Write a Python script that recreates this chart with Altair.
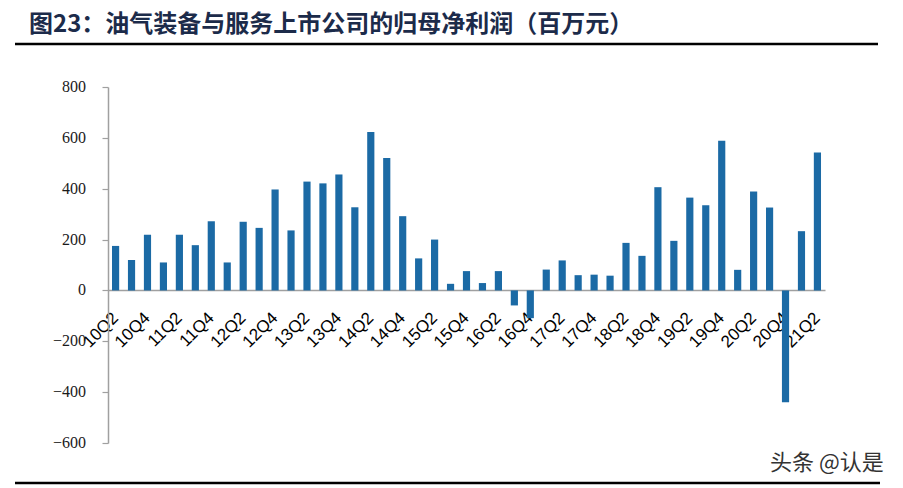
import altair as alt
import pandas as pd

quarters = ["10Q2","10Q3","10Q4",
            "11Q1","11Q2","11Q3","11Q4",
            "12Q1","12Q2","12Q3","12Q4",
            "13Q1","13Q2","13Q3","13Q4",
            "14Q1","14Q2","14Q3","14Q4",
            "15Q1","15Q2","15Q3","15Q4",
            "16Q1","16Q2","16Q3","16Q4",
            "17Q1","17Q2","17Q3","17Q4",
            "18Q1","18Q2","18Q3","18Q4",
            "19Q1","19Q2","19Q3","19Q4",
            "20Q1","20Q2","20Q3","20Q4",
            "21Q1","21Q2"]
profit = [175, 120, 219,
          110, 219, 178, 272,
          110, 270, 246, 397,
          236, 428, 421, 456,
          327, 623, 521, 292,
          126, 200, 26, 76,
          29, 76, -59, -109,
          82, 118, 60, 62,
          58, 187, 136, 406,
          195, 365, 335, 589,
          81, 389, 326, -440,
          233, 542]
tick_labels = quarters[::2]
y_ticks = [-600, -400, -200, 0, 200, 400, 600, 800]
title_text = "图23：油气装备与服务上市公司的归母净利润（百万元）"
source_text = "头条 @认是"

W, H = 717, 356
df = pd.DataFrame({"q": quarters, "v": profit})
yscale = alt.Scale(domain=[-600, 800], nice=False, zero=False)

bars = alt.Chart(df).mark_bar(color="#1B6AA5").encode(
    x=alt.X("q:N", sort=quarters,
            scale=alt.Scale(paddingInner=0.55, paddingOuter=0.25),
            axis=alt.Axis(title=None, values=tick_labels, labelAngle=-45,
                          labelAlign="right", labelBaseline="middle",
                          labelFont="Liberation Sans", labelFontSize=17,
                          labelColor="#000000", labelPadding=25,
                          ticks=False, domainColor="#a0a0a0", domainWidth=1.5,
                          offset=-153, grid=False)),
    y=alt.Y("v:Q", scale=yscale,
            axis=alt.Axis(title=None, values=y_ticks, grid=False,
                          labels=False,
                          tickSize=6, tickColor="#a0a0a0", tickWidth=1.2,
                          domainColor="#a0a0a0", domainWidth=1.5)),
)

ylabels = alt.Chart(pd.DataFrame({"t": y_ticks})).mark_text(
    align="right", baseline="middle", font="Liberation Serif",
    fontSize=16, color="#1a1a1a"
).encode(y=alt.Y("t:Q", scale=yscale), text=alt.Text("t:Q", format="d"),
         x=alt.value(-22))

title = alt.Chart(pd.DataFrame({"t": [title_text]})).mark_text(
    align="left", baseline="alphabetic", font="Noto Sans CJK SC",
    fontSize=24, fontWeight="bold", color="#1c2b4a"
).encode(text="t:N", x=alt.value(-79), y=alt.value(-55))

top_line = alt.Chart(pd.DataFrame({"a": [0]})).mark_rule(
    color="#000000", strokeWidth=2.5
).encode(x=alt.value(-93), x2=alt.value(770), y=alt.value(-43))

bottom_line = alt.Chart(pd.DataFrame({"a": [0]})).mark_rule(
    color="#000000", strokeWidth=2.5
).encode(x=alt.value(-93), x2=alt.value(772), y=alt.value(396))

source = alt.Chart(pd.DataFrame({"t": [source_text]})).mark_text(
    align="left", baseline="alphabetic", font="Noto Sans CJK SC",
    fontSize=22, color="#333333"
).encode(text="t:N", x=alt.value(662), y=alt.value(383))

chart = alt.layer(bars, ylabels, title, top_line, bottom_line, source).properties(
    width=W, height=H,
    autosize=alt.AutoSizeParams(type="none"),
    padding={"left": 100, "top": 79, "right": 70, "bottom": 45},
).configure_view(stroke=None)

chart.save("out.html", embed_options={"renderer": "svg", "actions": False})
